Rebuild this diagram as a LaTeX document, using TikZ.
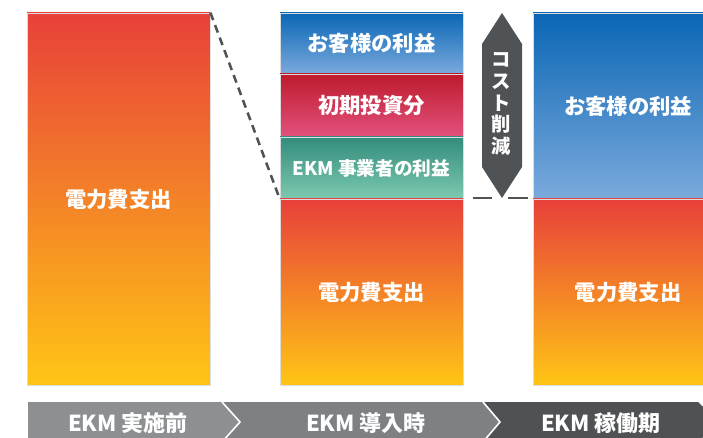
\documentclass[tikz,border=0pt]{standalone}
\usepackage{fontspec}
\setmainfont{Noto Sans CJK JP}
\definecolor{hotRed}{HTML}{E8403A}
\definecolor{warmYellow}{HTML}{FFC515}
\definecolor{deepBlue}{HTML}{0A66B5}
\definecolor{paleBlue}{HTML}{7BAADC}
\definecolor{wineRed}{HTML}{BE1A2C}
\definecolor{pinkRed}{HTML}{E2527E}
\definecolor{deepGreen}{HTML}{348C7C}
\definecolor{paleGreen}{HTML}{7CCAB0}
\definecolor{barEdge}{HTML}{DCDCDC}
\definecolor{darkGray}{HTML}{505355}
\definecolor{stageA}{HTML}{8D9092}
\definecolor{stageB}{HTML}{7E8183}
\definecolor{stageC}{HTML}{4F5254}
\begin{document}
\begin{tikzpicture}[x=0.75pt,y=-0.75pt,
        bar/.style={rectangle, draw=barEdge, line width=0.6pt, inner sep=0pt, minimum width=137.25pt, text=white, font=\fontsize{16}{18}\selectfont\bfseries},
        costBar/.style={bar, top color=hotRed, bottom color=warmYellow},
        gainBar/.style={bar, top color=deepBlue, bottom color=paleBlue},
        investBar/.style={bar, top color=wineRed, bottom color=pinkRed},
        ekmBar/.style={bar, top color=deepGreen, bottom color=paleGreen},
        stageText/.style={text=white, font=\fontsize{16.5}{18}\selectfont\bfseries}]

        \useasboundingbox (0,0) rectangle (703,438);

        % before
        \node[costBar, minimum height=279pt] (before) at (118.5,199) {電力費支出};

        % introduction
        \node[gainBar, minimum height=45.75pt] (gain) at (371.5,43.5) {お客様の利益};
        \node[investBar, minimum height=47.25pt] (invest) at (371.5,105.5) {初期投資分};
        \node[ekmBar, minimum height=46.5pt, font=\fontsize{14}{16}\selectfont\bfseries] (ekm) at (371.5,168) {EKM 事業者の利益};
        \node[costBar, minimum height=139.5pt] (cost) at (371.5,292) {電力費支出};

        % operation
        \node[gainBar, minimum width=142.5pt, minimum height=139.5pt] (gainLater) at (628,106) {お客様の利益};
        \node[costBar, minimum width=142.5pt, minimum height=139.5pt] (costLater) at (628,292) {電力費支出};

        \draw[darkGray, line width=1.9pt, dash pattern=on 6pt off 4pt] (before.north east) -- (cost.north west);

        % reduction arrow
        \fill[darkGray] (502,13) -- (522,44) -- (522,167) -- (502,198) -- (482,167) -- (482,44) -- cycle;
        \node[text=white, align=center, inner sep=0pt, font=\fontsize{14.5}{16.3}\selectfont\bfseries] (cut) at (501,104) {コ\\ス\\ト\\削\\減};
        \draw[darkGray, line width=1.1pt] (473,198) -- (492,198);
        \draw[darkGray, line width=1.1pt] (508,198) -- (528,198);

        % stages
        \fill[stageA] (28,402) -- (222,402) -- (240,422) -- (222,442) -- (28,442) -- cycle;
        \fill[stageB] (222,402) -- (483,402) -- (500,422) -- (483,442) -- (222,442) -- (240,422) -- cycle;
        \fill[stageC] (483,402) -- (698,402) -- (718,422) -- (698,442) -- (483,442) -- (500,422) -- cycle;
        \draw[white, line width=1.2pt] (222,402) -- (240,422) -- (222,442);
        \draw[white, line width=1.2pt] (483,402) -- (500,422) -- (483,442);
        \node[stageText] (stageBefore) at (128,423) {EKM 実施前};
        \node[stageText] (stageIntro) at (366,423) {EKM 導入時};
        \node[stageText] (stageRun) at (601,423) {EKM 稼働期};
    \end{tikzpicture}
\end{document}
